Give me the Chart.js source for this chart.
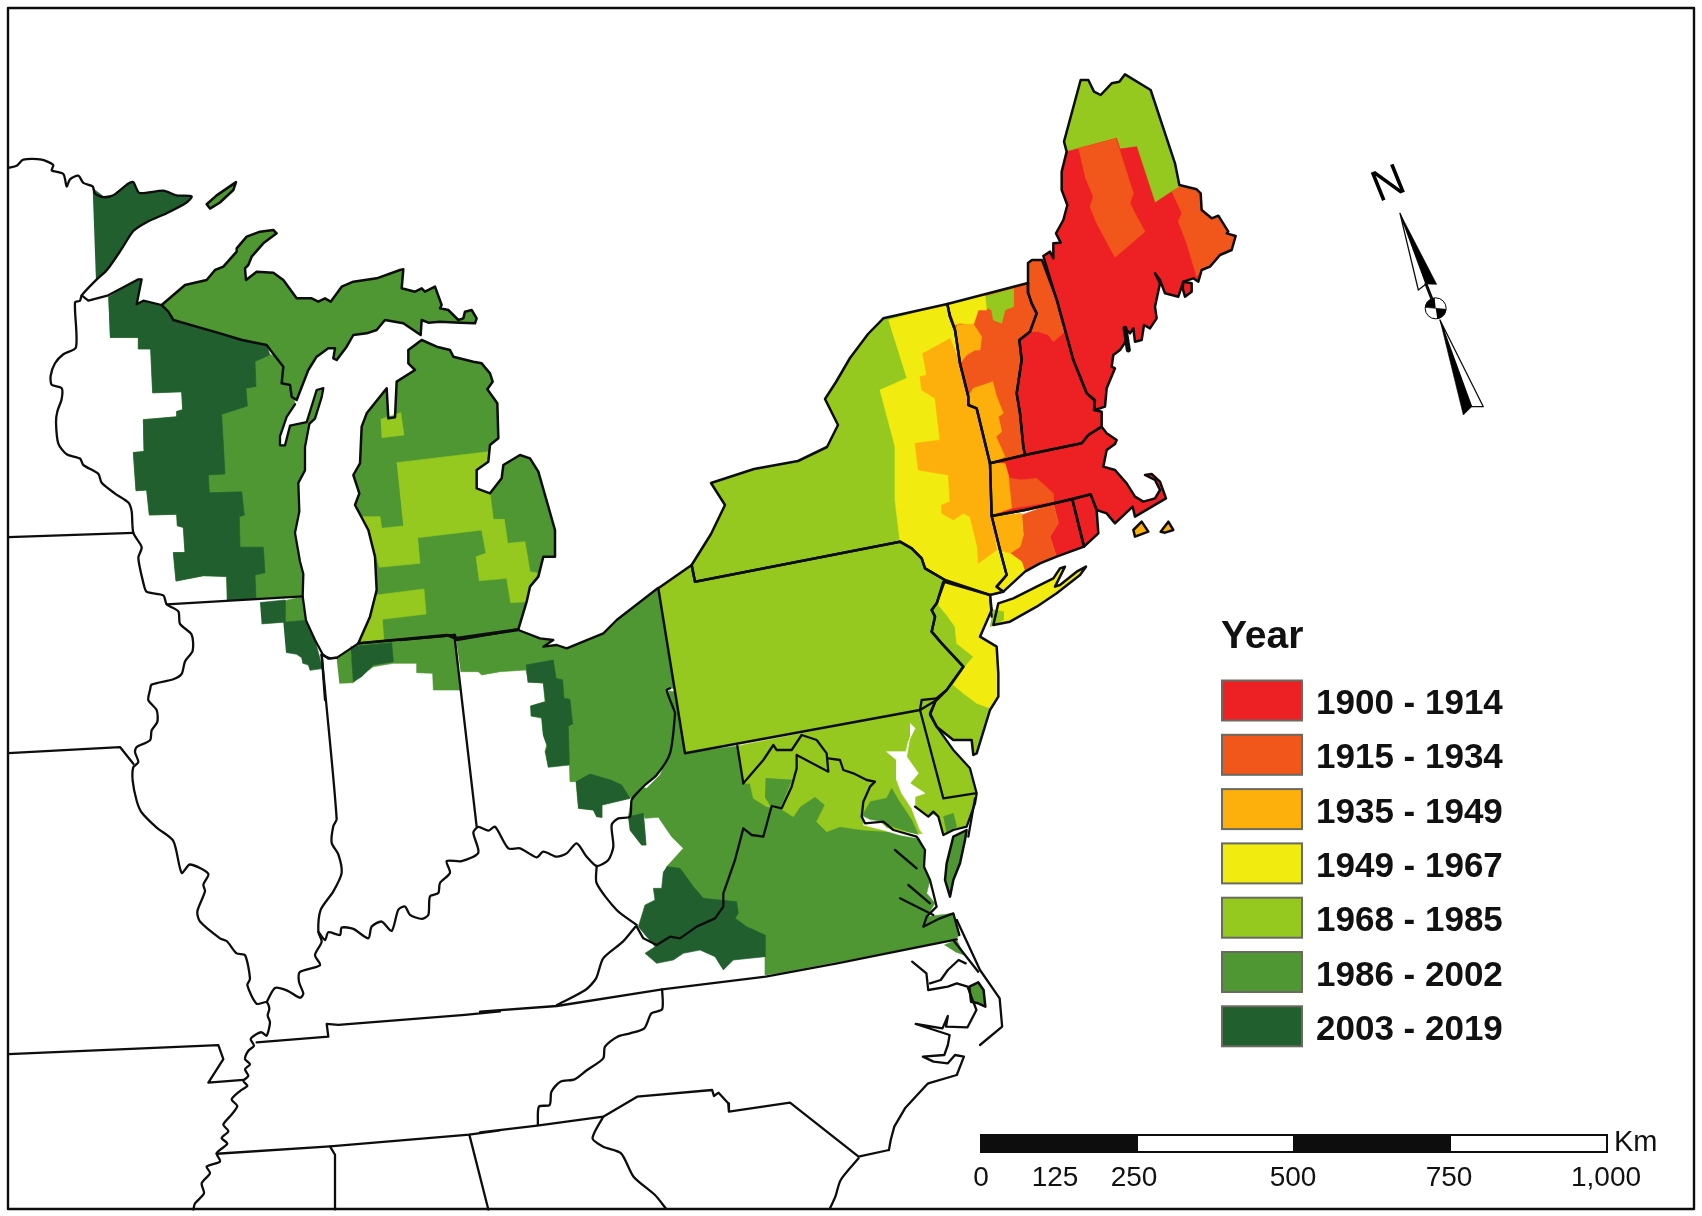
<!DOCTYPE html>
<html lang="en">
<head>
<meta charset="UTF-8" />
<title>Year map</title>
<script src="https://cdn.jsdelivr.net/npm/chart.js@4/dist/chart.umd.min.js"></script>
<style>
  html, body { margin: 0; padding: 0; background: #fff; }
  canvas { display: block; }
</style>
</head>
<body>
<canvas id="map" width="1702" height="1216"></canvas>
<script>
// legend
const legendTitle = 'Year';
const yearClasses = ['1900 - 1914', '1915 - 1934', '1935 - 1949', '1949 - 1967', '1968 - 1985', '1986 - 2002', '2003 - 2019'];
const classColors = ['#ed2024', '#f1561b', '#fdb00b', '#f1eb0f', '#96c91f', '#4e9733', '#215f2e'];
const [RED, ORANGE, AMBER, YELLOW, LIGHT, MID, DARK] = classColors;
const scaleLabels = ['0', '125', '250', '500', '750', '1,000'];

// shapes were traced on zoomed crops of the map, each helper maps a crop back to map units
const crop = (ox, oy, sx, sy) => flat => {
  const pts = [];
  for (let i = 0; i < flat.length; i += 2) pts.push({ x: ox + flat[i] / sx, y: oy + flat[i + 1] / sy });
  return pts;
};
const c1 = crop(840, 50, 3, 3), c2 = crop(840, 300, 3, 3), c3 = crop(600, 560, 3, 3), c4 = crop(60, 170, 3, 3);
const c5 = crop(260, 330, 3, 3), c6 = crop(1340, 150, 3, 3), c9 = crop(400, 620, 3, 3);
const c10 = crop(0, 140, 3, 2.8), c11 = crop(0, 690, 3, 2.98), c12 = crop(480, 920, 2.8, 3), px = crop(0, 0, 1, 1);

// states
const maine = [...c1([610,618,630,605,640,625,640,580,662,578,648,550,670,510,682,465,665,420,665,365,680,305,672,275,722,90,745,90,762,125,782,135,815,100,838,95,855,73,932,120,1005,340,1018,405,1070,418,1082,430,1085,480,1115,505,1135,497,1165,545,1160,550,1187,558,1175,600,1140,615,1110,650,1085,660,1075,695,1060,685,1030,695,1015,740,975,730,960,690,945,670,960,700,945,770,950,805,930,835,912,825,905,870,885,875,880,835,870,850]),
  ...c2([855,85,860,120,840,150,820,165,815,200,825,205,800,265,795,320,765,330,762,300,740,280,700,180,650,0])];
const mountDesert = c1([1030,695,1055,700,1055,725,1035,740,1028,715]);
const newHampshire = c2([564,-111,576,-120,606,-120,651,0,700,180,740,280,765,300,762,330,785,335,785,380,745,405,725,430,555,465,550,440,540,340,530,280,545,180,538,120,570,95,590,40,575,10,565,-20,564,-51]);
const vermont = c2([322,12,330,50,345,90,360,190,385,290,385,315,410,325,450,490,555,465,550,440,540,340,530,280,545,180,538,120,570,95,590,40,575,10,565,-20,564,-51]);
const massachusetts = c2([450,490,555,465,725,430,745,405,785,380,800,400,830,420,825,432,800,450,790,500,825,510,860,550,885,590,910,605,945,595,960,570,945,540,915,525,935,522,960,545,978,595,885,650,878,620,825,670,800,640,770,630,752,583,695,597,555,630,455,648]);
const connecticut = c2([455,648,555,630,697,598,732,740,650,770,600,790,555,815,490,875,470,860,500,825,480,750]);
const rhodeIsland = c2([697,598,752,583,770,630,775,700,732,740]);
const newYork = [...c2([130,55,322,12,330,50,345,90,360,190,385,290,385,315,410,325,450,490,455,648,480,750,500,825,470,860,490,875,450,885,315,840,255,805,245,775,215,745,180,725]),
  ...c3([285,65,275,15]), ...px([711,534,725,505,711,483,754,469,798,461,827,447,838,425,825,399,836,382,850,358,868,334])];
const pennsylvania = [...c3([175,85,275,15,285,65]), ...c2([180,725,215,745,245,775,255,805,315,840]),
  ...c3([1010,130,995,150,1005,170,995,215,1025,250,1090,320,1040,390,1010,420,960,450,255,580])];
const newJersey = c3([1030,65,1170,105,1175,150,1140,230,1190,260,1195,340,1195,410,1170,450,1130,580,1120,585,1115,540,1060,540,1010,500,990,460,1010,415,1040,390,1090,320,1025,250,995,215,1005,170,995,150,1010,130]);
const longIsland = c2([460,975,475,910,520,895,590,860,640,835,660,805,675,800,645,860,660,855,710,815,738,800,720,825,650,880,590,920,510,965]);
const vineyard = c2([880,690,905,665,925,695,885,710]);
const nantucket = c2([962,695,985,665,1000,690,975,698]);

// great lakes area
const upperPeninsula = c4([305,405,375,345,440,330,465,300,490,290,530,245,530,235,560,200,600,185,640,180,650,190,610,220,575,260,565,285,555,295,558,330,590,305,640,308,670,330,710,385,755,385,775,395,795,385,812,395,845,350,880,335,950,325,1020,300,1030,298,1025,355,1065,365,1085,355,1095,365,1125,350,1145,405,1140,415,1165,420,1195,450,1210,445,1215,425,1235,420,1250,445,1245,460,1200,458,1140,455,1105,458,1085,450,1082,495,1030,460,975,450,950,480,920,490,880,495,860,530,830,570,820,565,825,535,805,535,770,560,745,600,710,690,695,680,690,645,665,640,670,590,635,545,620,525,545,510,480,490,340,450,325,425]);
const isleRoyale = c10([620,180,650,155,708,118,700,140,660,175,630,192]);
const doorPeninsula = c10([920,790,950,700,970,695,965,720,945,780,928,795]);
const wisconsinArea = c10([325,440,415,390,425,390,410,460,430,450,485,462,520,505,700,550,740,560,800,575,810,600,850,615,850,680,880,700,885,740,860,775,840,830,840,855,855,855,870,800,920,790,930,795,915,860,915,925,895,960,898,1040,885,1100,900,1180,910,1215,908,1278,682,1290,680,1222,610,1220,528,1235,520,1155,555,1155,550,1085,532,1080,530,1048,448,1050,440,980,408,982,400,875,432,872,430,783,530,775,530,760,548,755,545,705,458,708,452,585,415,585,415,553,330,553]);
const wisconsinDark = c10([325,440,415,390,425,390,410,460,430,450,485,462,520,505,700,550,740,560,800,575,808,602,765,620,768,690,738,695,742,745,665,768,675,935,625,938,628,988,725,985,733,1050,718,1055,720,1140,790,1140,795,1212,765,1218,768,1283,682,1290,680,1222,610,1220,528,1235,520,1155,555,1155,550,1085,532,1080,530,1048,448,1050,440,980,408,982,400,875,432,872,430,783,530,775,530,760,548,755,545,705,458,708,452,585,415,585,415,553,330,553]);
const arrowhead = c10([278,135,310,158,340,155,385,122,400,118,418,148,490,142,530,155,575,158,560,175,500,205,440,230,400,255,365,305,320,365,288,395]);
const lowerMichigan = c5([445,60,485,30,530,50,570,60,580,80,640,95,665,100,690,130,698,155,682,178,712,220,715,325,690,345,685,395,650,420,650,475,690,490,725,445,730,405,780,375,810,385,835,425,885,600,885,680,850,680,835,740,810,770,800,815,775,898,585,925,560,915,295,940,330,860,350,780,345,680,325,600,285,525,298,490,280,435,300,400,305,290,320,250,380,175,385,265,405,262,410,155,465,120,445,100]);
const michiganPatchA = c5([362,268,422,248,432,315,365,323]);
const michiganPatchB = c5([410,398,685,365,682,395,650,420,650,475,690,490,700,568,733,568,743,640,795,635,810,725,835,730,810,770,800,815,752,818,740,745,658,752,648,680,678,670,665,600,473,623,480,700,358,712,325,600,305,560,360,560,365,595,430,588]);
const michiganPatchC = c5([350,795,492,777,498,852,367,868,372,935,297,940,330,860]);
const indianaStrip = c5([230,985,295,940,585,917,600,1080,520,1080,518,1030,470,1028,470,1000,400,1000,340,1010,305,1035,280,1058,238,1060]);
const indianaDark = c5([272,950,395,938,400,995,340,1005,305,1040,280,1055,275,985]);
const illinoisMid = c10([855,1290,908,1278,918,1345,890,1348,855,1350]);
const illinoisDarkA = c10([780,1295,855,1288,855,1350,785,1355]);
const illinoisDarkB = c10([850,1350,918,1345,945,1400,968,1480,930,1485,925,1470,908,1465,905,1450,890,1440,858,1435]);

// ohio and the virginias
const ohio = c9([168,58,355,30,420,55,460,60,430,80,470,75,500,85,610,40,650,0,774,-96,840,205,810,205,800,210,820,265,825,280,810,400,770,465,735,495,715,515,690,535,605,555,605,592,590,590,580,570,535,565,528,485,510,485,508,430,445,440,435,395,440,375,430,345,425,295,395,288,392,258,435,245,430,190,385,185,378,150,300,155,245,165,235,155,182,155]);
const ohioDarkA = c9([378,135,460,120,468,175,488,180,492,235,510,238,518,312,505,318,508,435,445,442,437,395,442,378,430,345,425,292,393,288,392,258,437,245,430,188,383,187]);
const ohioDarkB = c9([528,485,570,462,632,480,665,495,690,535,605,555,605,592,590,590,580,570,535,565]);
const virginias = c3([205,392,222,395,255,580,412,558,428,668,600,620,700,700,810,780,850,790,955,830,975,870,972,920,990,960,980,1000,1005,1030,980,1070,1060,1060,1078,1125,1065,1140,540,1238,495,1245,495,1190,200,920,250,865,215,830,175,772,135,775,130,760,138,855,125,855,90,810,85,770,95,712,120,680,140,685,180,645,205,590,215,500]);
const kanawhaDark = c3([85,770,130,760,138,855,125,855,90,810]);
const appalachianDark = c3([200,920,240,925,280,980,310,1015,360,1020,410,1025,415,1060,405,1075,440,1100,495,1125,495,1190,400,1200,370,1230,345,1190,300,1170,250,1180,220,1200,170,1210,135,1180,165,1160,115,1100,135,1035,165,1020,160,985,185,985,190,935]);
const marylandArea = c3([412,558,960,450,965,420,1000,420,990,465,1010,500,1060,570,1110,625,1130,700,1125,730,1100,800,1060,810,1030,825,790,810,720,800,680,815,650,785,675,735,645,710,600,740,580,770,540,745,500,740,460,715,450,670,430,670]);
const panhandleMid = c3([497,655,575,660,540,745,510,735,495,710]);
const southMarylandMid = c3([810,725,860,715,875,685,895,720,935,780,955,825,910,810,850,790,790,790,790,760]);
const delmarvaMid = c3([1030,770,1060,760,1070,800,1040,820]);
const eastShoreVa = c3([1100,810,1060,830,1040,910,1035,960,1050,1010,1060,960,1080,910,1095,840]);
const ncIsland = c12([1370,200,1395,187,1410,210,1415,260,1395,250,1375,245]);
const ncCorner = c12([1300,75,1335,60,1355,105,1330,95]);
const chesapeakeBay = c3([930,490,945,505,925,545,918,575,860,575,890,600,890,660,905,700,935,745,960,810,975,830,975,900,990,940,1000,990,1010,1040,1060,1060,1035,1010,1035,930,1050,860,1060,830,1030,825,1015,770,1000,765,985,770,945,740,945,710,975,700,930,670,955,640,920,590,930,530]);
const potomacMouth = c3([790,770,810,780,840,785,860,805,955,825,955,835,900,825,850,810,790,795]);

// northeast colour zones
const maineRed = [...c1([680,305,830,265,840,297,890,290,945,458,995,425,1018,415,1070,418,1082,430,1085,480,1115,505,1135,497,1165,545,1160,550,1187,558,1175,600,1140,615,1110,650,1085,660,1075,695,1060,685,1030,695,1015,740,975,730,960,690,945,670,960,700,945,770,950,805,930,835,912,825,905,870,885,875,880,835,870,850]),
  ...c2([855,85,860,120,840,150,820,165,815,200,825,205,800,265,795,320,765,330,762,300,740,280,700,180,650,0]),
  ...c1([610,618,630,605,640,625,640,580,662,578,648,550,670,510,682,465,665,420,665,365])];
const maineOrangeA = c1([715,295,828,265,838,297,880,430,870,460,885,490,915,545,825,622,770,520,750,470,760,440,735,380]);
const maineOrangeB = c1([995,425,1018,410,1070,418,1082,430,1085,480,1115,505,1135,497,1165,545,1160,550,1187,558,1175,600,1140,615,1110,650,1085,660,1070,680,1040,580,1015,515,1025,490]);
const hampshireOrange = c2([564,-111,576,-120,606,-120,651,0,675,95,640,125,625,105,595,95,570,95,590,40,575,10,565,-20,564,-51]);
const vermontYellow = c1([322,760,435,735,440,780,415,780,400,825,360,820,345,825]);
const vermontLight = c1([432,740,520,716,520,770,495,780,485,820,460,810,455,780,438,772]);
const vermontAmberTop = c2([352,75,400,72,425,110,420,150,405,150,380,165,360,190,345,90]);
const vermontAmberLow = c2([385,290,400,265,430,255,458,245,470,290,490,340,475,350,485,395,468,410,495,470,450,490,410,325,385,315]);
const yorkYellow = c2([145,60,322,12,330,50,345,90,360,190,385,290,385,315,410,325,450,490,455,648,480,750,500,825,470,860,490,875,450,885,315,840,255,805,245,775,215,745,180,725,165,600,165,440,120,270,200,235]);
const yorkAmber = c2([330,115,360,190,385,290,385,315,410,325,450,490,455,648,470,750,415,790,412,740,390,650,370,640,340,660,305,640,305,615,330,605,325,525,235,510,225,430,300,420,285,295,245,270,240,230,260,225,248,160]);
const jerseyYellow = c3([1030,65,1170,105,1175,150,1140,230,1190,260,1195,340,1195,410,1170,445,1130,430,1090,400,1060,375,1095,320,1120,290,1070,250,1065,200,1040,165,1015,135]);
const harborLight = c3([1180,150,1210,155,1210,180,1170,200]);
const massAmber = c2([450,490,495,490,505,525,515,625,455,645]);
const massOrange = c2([500,520,510,535,545,540,590,535,640,580,640,605,515,625,510,565]);
const connRed = c2([640,610,697,598,732,740,650,770,630,710,655,670]);
const connOrange = c2([545,645,640,610,655,670,630,710,650,770,600,790,555,815,545,785,510,760,540,740,550,705]);
const connAmber = c2([457,650,545,640,550,705,540,740,510,760,480,750]);
const connYellow = c2([480,750,510,760,545,785,555,815,490,875,470,860,500,825]);

// boundary lines that are not closed state outlines
const frame = px([8,8,1694,8,1694,1209,8,1209,8,8]);
const westRiver = [...c10([25,78,50,72,70,55,125,55,160,70,155,85,190,95,200,130,210,110,235,100,250,120,278,130,285,150,310,160,340,155,385,122,400,118,418,148,490,142,530,155,575,158,560,175,500,205,440,230,400,255,365,305,320,365,285,395,245,435,240,450,225,455,228,580,190,600,165,625,152,660,155,685,185,695,185,725,172,760,168,790,175,850,200,880,240,892,250,910,295,935,305,960,345,990,385,1015,395,1040,400,1100,425,1140,415,1170,430,1240,440,1265,490,1275,500,1300,535,1320,540,1355,575,1385,578,1430,555,1460,545,1495,520,1510,455,1525]),
  ...c11([450,0,445,30,470,60,472,95,455,120,450,150,410,170,405,185,415,215,400,230,398,270,410,330,425,365,470,410,520,450,545,545,570,520,625,548,610,580,615,600,592,660,600,690,660,740,680,748,710,785,735,790,750,860,742,880,770,935,800,930,808,950,803,970,810,990,800,1030,785,1020,770,1025,752,1040,762,1060,745,1075,735,1100,750,1115,735,1130,745,1150,730,1165,742,1180,720,1195,695,1220,712,1240,695,1265,670,1295,685,1315,665,1335,682,1352,650,1380,660,1405,620,1420,630,1440,605,1470,612,1500,585,1530,580,1548])];
const wabashRiver = c11([800,930,825,888,860,895,900,917,910,905,897,870,900,840,960,820,945,790,965,750,955,720,962,655,1000,600,1025,545,1015,490,995,455,1000,405,1010,385,975,0]);
const illinoisLine = c10([965,1440,975,1568]);
const ohioRiver = [...c11([955,720,975,745,985,722,1020,730,1025,708,1060,712,1105,740,1115,705,1145,690,1175,718,1195,655,1215,645,1230,670,1265,682,1285,670,1290,615,1315,605,1320,575,1350,545,1340,510,1385,510,1435,485,1420,425,1435,408]),
  ...c9([265,632,285,620,325,685,360,685,410,712,430,695,470,710,500,700,530,670,560,710,590,738,625,720,640,680,635,615,655,595,690,590,695,540,715,515,735,495,770,465,810,400,825,280,820,265,800,210,810,205])];
const tugFork = c9([590,738,590,790,650,870,710,915]);
const wisconsinLakeLine = c10([245,435,265,450,325,435,415,390,425,390,410,460,430,450,485,462]);
const greenBayLine = c10([885,740,860,775,840,830,840,855,855,855,870,800,920,790,950,700,970,695,965,720,945,780,928,795,915,860,915,925,895,960,898,1040,885,1100,900,1180,910,1215,908,1278,918,1345,945,1400,968,1440,985,1452,1010,1450]);
const lakeSouthEnd = c5([185,975,210,985,232,982,295,940]);
const wisconsinIllinois = c10([500,1300,908,1278]);
const iowaLine = c10([25,1112,400,1100]);
const missouriNorth = c11([25,188,360,170,400,220]);
const arkansasLine = c11([25,1085,655,1058,670,1100,625,1170,730,1162]);
const ohioIndianaLine = c9([0,60,163,45,168,58,355,30,420,55,460,60,430,80,470,75,500,85,610,40,650,0,774,-96]);
const indianaOhio = c9([163,45,230,620]);
const indianaMichigan = c5([295,940,585,915,590,930,775,898]);
const indianaWest = c5([185,975,195,1080]);
const kyTennessee = [...c11([770,1050,985,1033,980,995,1015,998,1395,968,1500,958]), ...c12([0,275,215,258,470,215,510,208,800,170,1000,130,1335,58])];
const kyVirginia = c12([435,20,400,65,345,115,325,175,295,210,215,255]);
const tnCarolina = c12([510,208,510,268,480,280,460,325,420,340,385,350,350,380,345,415,300,450,265,478,225,485,200,515,195,555,165,560,162,615]);
const southBorder = [...c11([650,1382,990,1360,1408,1325,1500,1312]), ...c12([0,637,160,617,345,590,440,530,650,510,655,528,668,518,695,550,697,575,868,548,1060,710,1145,690])];
const georgiaLine = c12([345,590,315,655,345,680,395,700,430,770,490,825,520,865]);
const alabamaWest = c11([990,1360,1005,1385,1005,1548]);
const alabamaEast = c11([1408,1325,1465,1548]);
const carolinaCoast = c12([1060,715,1010,780,995,830,980,865]);
const ncCoast = c12([1145,690,1150,660,1160,620,1190,565,1250,495,1255,490,1335,465,1355,410,1330,405,1310,430,1270,425,1240,410,1300,405,1310,375,1315,345,1220,312,1295,325,1310,288,1305,320,1365,322,1390,270,1365,200,1335,190,1310,200,1255,210,1250,160,1210,125]);
const ncSound = c12([1260,190,1290,180,1310,150,1340,120,1360,130]);
const outerBanks = c12([1335,0,1400,150,1455,235,1462,320,1400,375]);
const hatterasIsle = c12([1325,60,1395,155]);
const westVirginiaLine = c3([430,670,490,600,520,555,530,570,575,570,605,525,650,540,680,580,685,635,590,585,590,625,575,680,545,745,515,738,490,830,455,825,430,805,405,900,370,1000,370,1040,345,1075,290,1100,240,1135,210,1130,170,1155,130,1135,110,1100]);
const marylandWest = c3([430,670,412,558]);
const potomacRiver = c3([685,595,720,600,730,630,760,640,800,660,825,665,810,680,790,725,785,770,795,790,850,785,880,810,950,830,975,870,972,920,990,960,1000,1000,1010,1040,980,1070,970,1100,1020,1075,1060,1060,1078,1125]);
const delawareWest = c3([960,450,1030,715,1125,700]);
const delawareShore = c3([960,450,965,420,1010,415,990,465,1010,500,1060,570,1110,625,1130,700,1125,730,1100,800,1060,810,1030,825,1015,770,1000,755,985,770,945,740]);
const assateague = c3([1125,715,1105,830]);
const rappahannock = c3([885,870,950,925]);
const yorkRiver = c3([925,975,990,1030]);
const jamesRiver = c3([900,1015,1000,1065]);
const casco = c2([855,85,865,150]);
const hudsonTip = c2([450,885,455,950]);

// north arrow
const arrowBlackN = c6([180,190,290,403,258,402]);
const arrowWhiteN = c6([180,190,235,420,258,402]);
const arrowBlackS = c6([300,510,370,795,395,770]);
const arrowWhiteS = c6([300,510,430,770,395,770]);
const arrowShaft = c6([258,402,275,445]);
const arrowHub = c6([287,475]);
const hubQuarterA = c6([287,475,256,472,260,458,270,449,284,444]);
const hubQuarterB = c6([287,475,318,478,314,492,304,502,292,506]);

const area = (ring, color) => ({
  data: ring, showLine: true, fill: 'shape', backgroundColor: color,
  borderColor: color, borderWidth: 0.6, pointRadius: 0, tension: 0
});
const line = (ring, width = 2.3, color = '#0d0d0d', tension = 0) => ({
  data: ring, showLine: true, fill: false, borderColor: color,
  borderWidth: width, pointRadius: 0, tension, borderJoinStyle: 'round', borderCapStyle: 'round'
});
const loop = (ring, width) => line([...ring, ring[0]], width);
const river = ring => line(ring, 2.3, '#0d0d0d', 0.25);

// listed bottom to top
const layers = [
  ...[upperPeninsula, isleRoyale, doorPeninsula, wisconsinArea, lowerMichigan, indianaStrip, illinoisMid, ohio, virginias, eastShoreVa, ncIsland, ncCorner].map(r => area(r, MID)),
  ...[michiganPatchA, michiganPatchB, michiganPatchC, pennsylvania, newYork, maine, marylandArea, newJersey, harborLight].map(r => area(r, LIGHT)),
  ...[panhandleMid, southMarylandMid, delmarvaMid].map(r => area(r, MID)),
  ...[wisconsinDark, arrowhead, indianaDark, illinoisDarkA, illinoisDarkB, ohioDarkA, ohioDarkB, kanawhaDark, appalachianDark].map(r => area(r, DARK)),
  ...[maineRed, mountDesert, newHampshire, massachusetts, connRed, rhodeIsland].map(r => area(r, RED)),
  ...[vermont, maineOrangeA, maineOrangeB, hampshireOrange, massOrange, connOrange].map(r => area(r, ORANGE)),
  area(vermontLight, LIGHT),
  ...[vermontYellow, yorkYellow, jerseyYellow, longIsland, connYellow].map(r => area(r, YELLOW)),
  area(harborLight, LIGHT),
  ...[vermontAmberTop, vermontAmberLow, yorkAmber, massAmber, connAmber, vineyard, nantucket].map(r => area(r, AMBER)),
  area(chesapeakeBay, '#ffffff'), area(potomacMouth, '#ffffff'),
  ...[maine, mountDesert, newHampshire, vermont, massachusetts, connecticut, rhodeIsland, newYork, pennsylvania, newJersey, longIsland, vineyard, nantucket, upperPeninsula, isleRoyale, lowerMichigan, eastShoreVa, ncIsland].map(r => loop(r, 2.5)),
  ...[westRiver, wabashRiver, ohioRiver, tugFork, kyVirginia, tnCarolina, georgiaLine, carolinaCoast].map(river),
  ...[wisconsinLakeLine, greenBayLine, lakeSouthEnd, ohioIndianaLine, indianaOhio, indianaMichigan, indianaWest, illinoisLine,
      wisconsinIllinois, iowaLine, missouriNorth, arkansasLine, kyTennessee, southBorder, alabamaWest, alabamaEast,
      ncCoast, ncSound, outerBanks, hatterasIsle, westVirginiaLine, marylandWest, potomacRiver, delawareWest, delawareShore, assateague, rappahannock, yorkRiver, jamesRiver, hudsonTip].map(r => line(r)),
  line(casco, 5),
  area(arrowWhiteN, '#ffffff'), line([...arrowWhiteN, arrowWhiteN[0]], 1.3), area(arrowBlackN, '#000000'),
  area(arrowWhiteS, '#ffffff'), line([...arrowWhiteS, arrowWhiteS[0]], 1.3), area(arrowBlackS, '#000000'),
  line(arrowShaft, 3),
  { data: arrowHub, showLine: false, pointRadius: 10.5, pointBackgroundColor: '#ffffff', pointBorderColor: '#000000', pointBorderWidth: 1 },
  area(hubQuarterA, '#000000'), area(hubQuarterB, '#000000'),
  line(frame, 2.4)
];

// text, legend boxes and scale bar
const mapNotes = {
  id: 'mapNotes',
  afterDatasetsDraw(chart) {
    const { ctx } = chart;
    ctx.save();
    ctx.fillStyle = '#111';
    ctx.textBaseline = 'alphabetic';
    ctx.font = 'bold 39px "Liberation Sans"';
    ctx.fillText(legendTitle, 1221, 648);
    yearClasses.forEach((label, i) => {
      const top = 680.5 + i * 54.3;
      ctx.fillStyle = classColors[i];
      ctx.fillRect(1222, top, 80, 40);
      ctx.strokeStyle = '#6a6a62';
      ctx.lineWidth = 2;
      ctx.strokeRect(1222, top, 80, 40);
      ctx.fillStyle = '#111';
      ctx.font = 'bold 35px "Liberation Sans"';
      ctx.fillText(label, 1316, 714 + i * 54.3);
    });
    // scale bar
    const stops = [981, 1138, 1293, 1451, 1607];
    for (let i = 0; i < 4; i++) {
      ctx.fillStyle = i % 2 ? '#ffffff' : '#0d0d0d';
      ctx.fillRect(stops[i], 1135, stops[i + 1] - stops[i], 17);
    }
    ctx.strokeStyle = '#0d0d0d';
    ctx.lineWidth = 2;
    ctx.strokeRect(981, 1135, 626, 17);
    ctx.fillStyle = '#111';
    ctx.font = '28px "Liberation Sans"';
    ctx.textAlign = 'center';
    const labelX = [981, 1055, 1134, 1293, 1449, 1606];
    scaleLabels.forEach((t, i) => ctx.fillText(t, labelX[i], 1186));
    ctx.textAlign = 'left';
    ctx.font = '29px "Liberation Sans"';
    ctx.fillText('Km', 1614, 1151);
    // north letter
    ctx.translate(1389, 185);
    ctx.rotate(-22 * Math.PI / 180);
    ctx.textAlign = 'center';
    ctx.textBaseline = 'middle';
    ctx.font = '44px "Liberation Sans"';
    ctx.fillStyle = '#000';
    ctx.fillText('N', 0, 0);
    ctx.restore();
  }
};

new Chart(document.getElementById('map').getContext('2d'), {
  type: 'scatter',
  data: { datasets: layers.slice().reverse() },
  options: {
    responsive: false,
    animation: false,
    events: [],
    layout: { padding: 0, autoPadding: false },
    scales: {
      x: { type: 'linear', min: 0, max: 1702, display: false },
      y: { type: 'linear', min: 0, max: 1216, reverse: true, display: false }
    },
    plugins: { legend: { display: false }, tooltip: { enabled: false } }
  },
  plugins: [mapNotes]
});
</script>
</body>
</html>
